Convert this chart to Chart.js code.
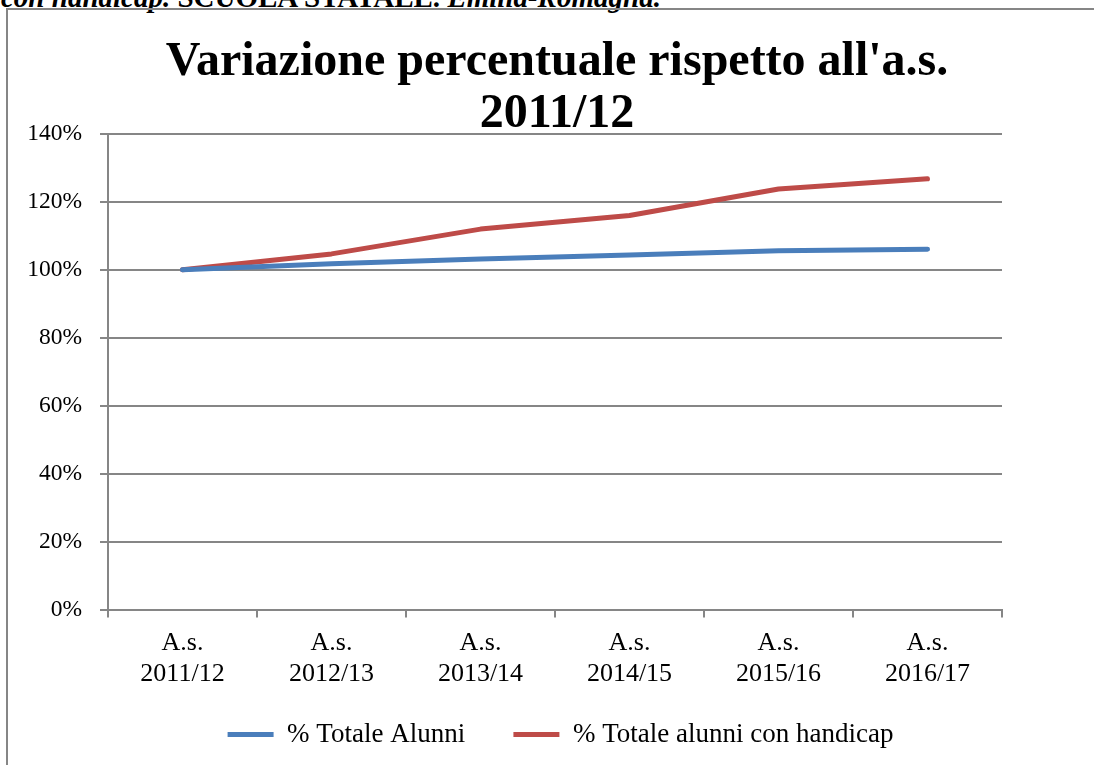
<!DOCTYPE html>
<html>
<head>
<meta charset="utf-8">
<script src="https://cdn.jsdelivr.net/npm/chart.js@4.4.0/dist/chart.umd.min.js"></script>
<style>
  html, body { margin: 0; padding: 0; background: #fff; overflow: hidden; }
  body { width: 1094px; height: 765px; position: relative; font-family: "Liberation Serif", serif; }
  #caption { position: absolute; left: 1px; top: -19px; font-size: 29px; line-height: 32px; font-weight: bold; white-space: nowrap; }
  #box { position: absolute; left: 6px; top: 8px; width: 1100px; height: 800px; border: 2px solid #868686; box-sizing: border-box; }
  #wrap { position: absolute; left: 9px; top: 10px; width: 1085px; height: 755px; }
</style>
</head>
<body>
<div id="caption"><i>con handicap.</i> SCUOLA STATALE. <i>Emilia-Romagna.</i></div>
<div id="box"></div>
<div id="wrap"><canvas id="chart"></canvas></div>
<script>
const categories = [
  ['A.s.', '2011/12'],
  ['A.s.', '2012/13'],
  ['A.s.', '2013/14'],
  ['A.s.', '2014/15'],
  ['A.s.', '2015/16'],
  ['A.s.', '2016/17']
];
const totaleAlunni = [100, 101.8, 103.2, 104.4, 105.6, 106.1];
const alunniHandicap = [100, 104.7, 112.0, 116.0, 123.8, 126.8];
const yTicks = [0, 20, 40, 60, 80, 100, 120, 140];
const titleLines = ["Variazione percentuale rispetto all'a.s.", '2011/12'];

const serif = '"Liberation Serif", "Times New Roman", serif';
const gridGray = '#868686';

// title drawn by hand so it can sit over the top of the plot like the original
const titlePlugin = {
  id: 'overlapTitle',
  afterDraw(chart) {
    const c = chart.ctx;
    c.save();
    c.font = 'bold 48px ' + serif;
    c.fillStyle = '#000';
    c.textAlign = 'center';
    c.textBaseline = 'alphabetic';
    c.fillText(titleLines[0], 548, 65);
    c.fillText(titleLines[1], 548, 117);
    c.restore();
  }
};

const ctx = document.getElementById('chart').getContext('2d');
new Chart(ctx, {
  type: 'line',
  data: {
    labels: categories,
    datasets: [
      {
        label: '% Totale Alunni',
        data: totaleAlunni,
        borderColor: '#4A7EBB',
        backgroundColor: '#4A7EBB',
        borderWidth: 5,
        borderCapStyle: 'round',
        borderJoinStyle: 'round',
        pointRadius: 0,
        pointStyle: 'line',
        tension: 0
      },
      {
        label: '% Totale alunni con handicap',
        data: alunniHandicap,
        borderColor: '#BE4B48',
        backgroundColor: '#BE4B48',
        borderWidth: 5,
        borderCapStyle: 'round',
        borderJoinStyle: 'round',
        pointRadius: 0,
        pointStyle: 'line',
        tension: 0
      }
    ]
  },
  options: {
    responsive: true,
    maintainAspectRatio: false,
    animation: false,
    layout: { padding: { left: 18, right: 0, top: 124, bottom: 7 } },
    plugins: {
      title: { display: false },
      legend: {
        position: 'bottom',
        labels: {
          color: '#000',
          font: { family: serif, size: 27 },
          usePointStyle: true,
          pointStyleWidth: 46,
          boxHeight: 5,
          padding: 28,
          // a little extra room after the first entry, as in the original
          generateLabels: (chart) => {
            const items = Chart.defaults.plugins.legend.labels.generateLabels(chart);
            items[0].text += '\u00a0\u00a0\u00a0';
            return items;
          }
        }
      },
      tooltip: { enabled: false }
    },
    scales: {
      x: {
        offset: true,
        border: { color: gridGray, width: 2 },
        grid: { offset: true, drawOnChartArea: false, drawTicks: true, tickLength: 8, color: gridGray, lineWidth: 2 },
        ticks: {
          color: '#000',
          font: { family: serif, size: 26, lineHeight: 1.2 },
          maxRotation: 0,
          padding: 10
        },
        afterFit: (scale) => { scale.height = 83.5; }
      },
      y: {
        min: 0,
        max: 140,
        afterBuildTicks: (scale) => { scale.ticks = yTicks.map(v => ({ value: v })); },
        afterFit: (scale) => { scale.width = 81; },
        border: { color: gridGray, width: 2 },
        grid: { color: gridGray, lineWidth: 2, tickLength: 8 },
        ticks: {
          color: '#000',
          font: { family: serif, size: 23.5 },
          padding: 18,
          callback: (v) => v + '%'
        }
      },
      // empty right-hand axis: keeps the plot narrow while legend stays centred on the canvas
      spacer: {
        type: 'linear',
        position: 'right',
        display: true,
        afterFit: (scale) => { scale.width = 92; },
        border: { display: false },
        grid: { display: false, drawTicks: false },
        ticks: { display: false }
      }
    }
  },
  plugins: [titlePlugin]
});
</script>
</body>
</html>
